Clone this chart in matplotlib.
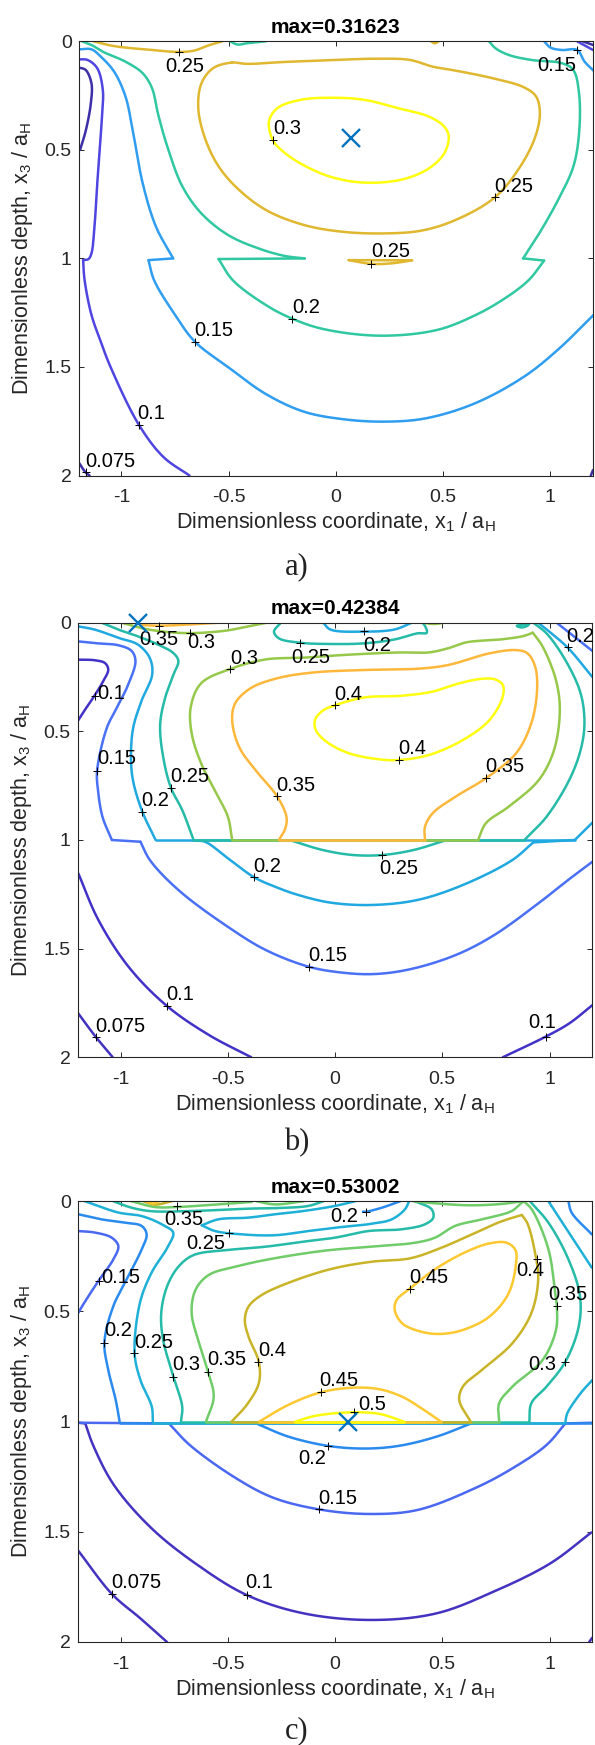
import numpy as np
import matplotlib
matplotlib.use("Agg")
import matplotlib.pyplot as plt

plt.rcParams['font.family'] = ['Liberation Sans', 'DejaVu Sans']
plt.rcParams['mathtext.default'] = 'regular'

W, H = 595, 1745
X_TICKS = [-1, -0.5, 0, 0.5, 1]
Y_TICKS = [0, 0.5, 1, 1.5, 2]
X_LABEL = 'Dimensionless coordinate, x$_{1}$ / a$_{H}$'
Y_LABEL = 'Dimensionless depth, x$_{3}$ / a$_{H}$'

# ---------- panel a ----------
TITLE_A = 'max=0.31623'
COLORS_A = {0.075: '#3d2fa8', 0.1: '#4f45e0', 0.15: '#2f9df0', 0.2: '#30c8a0', 0.25: '#e0b830', 0.3: '#ffff10'}
CONTOURS_A = [
 (0.075, [(-1.198,.121),(-1.167,.132),(-1.14,.194),(-1.143,.286),(-1.166,.409),(-1.193,.5)]),
 (0.075, [(-1.198,1.942),(-1.167,1.986),(-1.149,2.0)]),
 (0.075, [(1.152,0),(1.2,.017)]),
 (0.075, [(1.19,2.0),(1.2,1.975)]),
 (0.1, [(-1.198,.083),(-1.158,.086),(-1.113,.124),(-1.087,.224),(-1.09,.332),(-1.108,.578),(-1.126,.854),(-1.14,.977),(-1.154,1.003),(-1.179,1.008)]),
 (0.1, [(-1.179,1.008),(-1.172,1.10),(-1.14,1.26),(-1.096,1.385),(-1.051,1.50),(-.919,1.766),(-.804,1.915),(-.683,2.0)]),
 (0.1, [(1.126,0),(1.2,.04)]),
 (0.15, [(-1.198,.037),(-1.14,.037),(-1.096,.071),(-1.034,.14),(-.981,.255),(-.945,.424),(-.901,.654),(-.839,.854),(-.759,1.0)]),
 (0.15, [(-.759,1.0),(-.874,1.008)]),
 (0.15, [(-.874,1.008),(-.848,1.10),(-.75,1.26),(-.657,1.384),(-.503,1.50),(-.326,1.625),(-.149,1.706),(.028,1.74),(.223,1.752),(.418,1.737),(.648,1.668),(.878,1.545),(1.037,1.42),(1.202,1.261)]),
 (0.15, [(.972,0),(1.002,.029),(1.055,.04),(1.126,.04),(1.161,.094),(1.202,.135)]),
 (0.2, [(-1.184,0),(-1.14,.017),(-1.087,.048),(-.981,.094),(-.901,.147),(-.857,.217),(-.83,.332),(-.786,.485),(-.715,.67),(-.627,.793),(-.503,.892),(-.361,.954),(-.237,.989),(-.145,1.0)]),
 (0.2, [(-.145,1.0),(-.547,1.003)]),
 (0.2, [(-.547,1.003),(-.481,1.10),(-.326,1.215),(-.205,1.277),(-.06,1.325),(.205,1.356),(.471,1.33),(.648,1.263),(.789,1.184),(.9,1.10),(.972,1.01)]),
 (0.2, [(.972,1.01),(.874,1.0)]),
 (0.2, [(.874,1.0),(.949,.885),(1.037,.731),(1.108,.578),(1.135,.424),(1.135,.24),(1.108,.132),(1.055,.101),(.913,.086),(.807,.063),(.745,.032),(.715,0)]),
 (0.2, [(-.494,0),(-.458,.015),(-.414,.009),(-.326,0)]),
 (0.25, [(-1.131,0),(-1.034,.022),(-.857,.04),(-.733,.049),(-.662,.043),(-.591,.018),(-.529,0)]),
 (0.25, [(.444,0),(.462,.009),(.48,0)]),
 (0.25, [(.06,1.008),(.166,1.025),(.258,1.023),(.356,1.009)]),
 (0.25, [(.06,1.008),(.356,1.009)]),
 (0.25, [(-.485,.098),(-.573,.124),(-.627,.194),(-.642,.301),(-.618,.424),(-.556,.562),(-.467,.67),(-.326,.777),(-.149,.846),(.028,.877),(.223,.885),(.4,.872),(.559,.823),(.742,.719),(.86,.578),(.931,.439),(.952,.332),(.935,.255),(.878,.212),(.736,.171),(.559,.135),(.453,.117),(.347,.086),(.205,.08),(-.007,.086),(-.237,.095),(-.414,.104),(-.485,.098)]),
 (0.3, [(-.294,.455),(-.312,.37),(-.274,.309),(-.166,.27),(-.007,.26),(.135,.27),(.294,.309),(.435,.347),(.506,.393),(.527,.439),(.506,.516),(.435,.585),(.312,.636),(.135,.651),(-.025,.624),(-.166,.562),(-.255,.5),(-.294,.455)]),
]
LABELS_A = [
 ('0.25',-.706,.117,-.733,.049),('0.15',1.032,.112,1.126,.04),('0.3',-.228,.401,-.294,.455),
 ('0.25',.832,.667,.742,.719),('0.25',.255,.969,.166,1.025),('0.2',-.14,1.226,-.205,1.277),
 ('0.15',-.57,1.33,-.657,1.384),('0.1',-.86,1.714,-.919,1.766),('0.075',-1.051,1.934,-1.166,1.986),
]
MAX_A = (.073, .447)

# ---------- panel b ----------
TITLE_B = 'max=0.42384'
COLORS_B = {0.075: '#4232c0', 0.1: '#4232c8', 0.15: '#4a70f5', 0.2: '#20a8e0', 0.25: '#25bba8', 0.3: '#96c84a', 0.35: '#fdb83c', 0.4: '#ffff10'}
CONTOURS_B = [
 (0.075, [(-1.198,1.798),(-1.117,1.905),(-1.037,2.0)]),
 (0.1, [(-1.198,.17),(-1.12,.173),(-1.073,.186),(-1.058,.216),(-1.081,.268),(-1.123,.337),(-1.166,.4),(-1.2,.452)]),
 (0.1, [(-1.198,1.153),(-1.104,1.368),(-.962,1.585),(-.784,1.764),(-.589,1.897),(-.391,2.0)]),
 (0.1, [(.782,2.0),(.982,1.905),(1.092,1.844),(1.2,1.76)]),
 (0.15, [(-1.198,.086),(-1.12,.094),(-1.01,.104),(-.949,.13),(-.931,.176),(-.965,.285),(-1.019,.393),(-1.065,.485),(-1.11,.681),(-1.106,.77),(-1.085,.893),(-1.041,1.0)]),
 (0.15, [(-1.041,1.0),(-.908,1.008)]),
 (0.15, [(-.908,1.008),(-.864,1.092),(-.731,1.23),(-.501,1.399),(-.324,1.506),(-.124,1.583),(.03,1.61),(.181,1.617),(.349,1.595),(.561,1.53),(.738,1.44),(.95,1.29),(1.092,1.18),(1.2,1.1)]),
 (0.15, [(1.033,0),(1.2,.13)]),
 (0.2, [(-1.198,.017),(-1.12,.032),(-1.01,.07),(-.919,.101),(-.864,.163),(-.853,.239),(-.903,.36),(-.942,.485),(-.952,.617),(-.943,.724),(-.899,.87),(-.837,1.0)]),
 (0.2, [(-.837,1.0),(1.118,1.0)]),
 (0.2, [(1.118,1.0),(1.2,.92)]),
 (0.2, [(-.66,1.003),(-.607,1.008),(-.5,1.084),(-.377,1.172),(-.28,1.215),(-.182,1.25),(-.023,1.288),(.172,1.299),(.384,1.276),(.596,1.207),(.827,1.092),(.924,1.011)]),
 (0.2, [(.924,1.011),(1.118,1.0)]),
 (0.2, [(-.055,0),(-.023,.031),(.136,.041),(.278,.031),(.358,0)]),
 (0.2, [(.947,0),(1.01,.05),(1.087,.117),(1.2,.25)]),
 (0.25, [(-1.089,0),(-1.01,.032),(-.919,.063),(-.825,.101),(-.754,.14),(-.731,.176),(-.754,.239),(-.793,.347),(-.816,.469),(-.802,.617),(-.766,.759),(-.713,.862),(-.66,1.0)]),
 (0.25, [(-.66,1.0),(.883,1.0)]),
 (0.25, [(.883,1.0),(.986,.893),(1.092,.724),(1.145,.586),(1.163,.463),(1.145,.325),(1.074,.172),(.986,.049),(.924,0)]),
 (0.25, [(-.2,1.004),(-.058,1.046),(.083,1.069),(.221,1.069),(.366,1.046),(.508,1.004)]),
 (0.25, [(-.253,0),(-.285,.041),(-.262,.072),(-.165,.092),(-.023,.098),(.136,.095),(.278,.077),(.384,.049),(.428,.046),(.41,.003),(.393,0)]),
 (0.25, [(.848,.015),(.88,.008),(.905,.003),(.9,.012),(.87,.022),(.848,.015)]),
 (0.3, [(-.48,1.0),(-.5,.893),(-.554,.785),(-.625,.647),(-.669,.509),(-.673,.387),(-.625,.279),(-.489,.213),(-.324,.169),(-.147,.161),(.03,.149),(.296,.137),(.435,.137),(.526,.118),(.614,.09),(.773,.077),(.88,.061),(.922,.046)]),
 (0.3, [(.922,.046),(.968,.11),(1.03,.264),(1.048,.402),(1.021,.586),(.95,.724),(.809,.847),(.703,.923),(.667,1.0)]),
 (0.3, [(-.48,1.0),(.667,1.0)]),
 (0.3, [(-.996,0),(-.9,.025),(-.825,.038),(-.685,.048),(-.513,.037),(-.42,.02),(-.319,0)]),
 (0.3, [(.41,0),(.46,.006),(.51,0)]),
 (0.35, [(-.262,1.0),(-.232,.946),(-.227,.893),(-.271,.798),(-.359,.693),(-.448,.571),(-.48,.448),(-.466,.371),(-.395,.302),(-.271,.256),(-.112,.23),(.119,.218),(.384,.212),(.526,.195),(.72,.141),(.844,.126),(.897,.141),(.933,.202),(.942,.31),(.915,.463),(.844,.601),(.703,.716),(.561,.801),(.455,.877),(.419,.939),(.419,1.0)]),
 (0.35, [(-.262,1.0),(.419,1.0)]),
 (0.35, [(-.9,.011),(-.82,.014),(-.678,.008),(-.545,0)]),
 (0.4, [(0,.38),(-.058,.405),(-.094,.448),(-.09,.494),(-.04,.548),(.065,.601),(.207,.629),(.296,.632),(.437,.609),(.596,.54),(.72,.448),(.782,.34),(.782,.287),(.747,.261),(.685,.258),(.579,.279),(.455,.317),(.313,.336),(.136,.344),(0,.38)]),
]
LABELS_B = [
 ('0.35',-.823,.077,-.82,.014),('0.3',-.625,.092,-.678,.046),('0.3',-.425,.164,-.489,.213),
 ('0.25',-.112,.16,-.165,.092),('0.2',.195,.103,.136,.04),('0.2',1.145,.064,1.087,.113),
 ('0.1',-1.044,.325,-1.12,.337),('0.4',.062,.33,0,.38),('0.4',.358,.581,.296,.632),
 ('0.15',-1.019,.627,-1.11,.681),('0.25',-.678,.709,-.766,.759),('0.2',-.837,.819,-.899,.87),
 ('0.35',-.182,.747,-.271,.798),('0.35',.791,.663,.703,.716),('0.25',.296,1.13,.221,1.069),
 ('0.2',-.315,1.12,-.377,1.172),('0.15',-.035,1.53,-.124,1.583),('0.1',-.724,1.713,-.784,1.764),
 ('0.075',-1.004,1.856,-1.115,1.905),('0.1',.965,1.839,.982,1.905),
]
MAX_B = (-.917, 0.0)

# ---------- panel c ----------
TITLE_C = 'max=0.53002'
COLORS_C = {0.075: '#4433c0', 0.1: '#4433c0', 0.15: '#4a68f0', 0.2: '#2a8aee', 0.25: '#1fb0d8', 0.3: '#25bba8', 0.35: '#70cc68', 0.4: '#c9b428', 0.45: '#fdc830', 0.5: '#fbfb10'}
CONTOURS_C = [
 (0.075, [(-1.197,1.587),(-1.041,1.782),(-.908,1.893),(-.784,2.0)]),
 (0.075, [(1.185,2.0),(1.2,1.98)]),
 (0.1, [(-1.197,1.005),(-1.165,1.008)]),
 (0.1, [(-1.165,1.008),(-1.129,1.106),(-1.032,1.287),(-.855,1.485),(-.642,1.65),(-.412,1.787),(-.147,1.87),(.172,1.9),(.473,1.87),(.738,1.772),(1.004,1.643),(1.195,1.503)]),
 (0.15, [(-1.197,.135),(-1.12,.142),(-1.042,.165),(-1.011,.203),(-1.034,.263),(-1.104,.362),(-1.174,.467),(-1.197,.505)]),
 (0.15, [(-1.197,1.005),(-.775,1.008)]),
 (0.15, [(-.775,1.008),(-.678,1.106),(-.465,1.255),(-.289,1.345),(-.076,1.398),(.154,1.419),(.384,1.401),(.65,1.303),(.827,1.212),(.986,1.106),(1.074,1.008)]),
 (0.15, [(1.074,1.008),(1.2,1.005)]),
 (0.2, [(-1.197,.059),(-1.089,.082),(-.98,.097),(-.902,.112),(-.879,.15),(-.902,.218),(-.972,.354),(-1.034,.475),(-1.076,.641),(-1.058,.765),(-1.023,.902),(-1.005,1.0)]),
 (0.2, [(-1.005,1.004),(1.2,1.004)]),
 (0.2, [(-.359,1.012),(-.218,1.068),(-.032,1.11),(.136,1.122),(.296,1.11),(.473,1.068),(.635,1.008)]),
 (0.2, [(.13,.047),(.145,.047),(.218,.029),(.303,0)]),
 (0.2, [(1.088,0),(1.103,.051),(1.197,.15)]),
 (0.25, [(-1.166,0),(-1.011,.051),(-.902,.067),(-.809,.104),(-.755,.142),(-.778,.203),(-.856,.324),(-.91,.46),(-.935,.69),(-.908,.811),(-.855,.932),(-.85,1.0)]),
 (0.25, [(-.85,1.006),(1.074,1.006)]),
 (0.25, [(-.622,.109),(-.545,.082),(-.405,.074),(-.281,.059),(-.14,.043),(-.001,.021),(.093,0)]),
 (0.25, [(-.622,.109),(-.56,.135),(-.436,.15),(-.281,.154),(-.125,.135),(-.001,.12),(.155,.104),(.264,.082),(.326,.036),(.345,0)]),
 (0.25, [(.995,0),(1.197,.301)]),
 (0.25, [(1.2,.811),(1.145,.871),(1.083,.962),(1.074,1.0)]),
 (0.3, [(-.719,1.0),(-.713,.932),(-.754,.796),(-.802,.629),(-.811,.508),(-.784,.387),(-.731,.297),(-.66,.244),(-.501,.221),(-.324,.206),(-.147,.183),(0,.165),(.155,.135),(.311,.127),(.42,.104),(.458,.074),(.45,.036),(.373,0)]),
 (0.3, [(-1.034,0),(-.949,.029),(-.856,.045),(-.669,.044),(-.389,.033),(-.25,.03),(-.125,.021),(-.055,0)]),
 (0.3, [(.909,0),(.995,.097),(1.088,.263),(1.142,.43),(1.136,.569),(1.074,.728),(.986,.841),(.915,.917),(.906,1.0)]),
 (0.3, [(-.719,1.003),(.906,1.003)]),
 (0.35, [(-.602,1.0),(-.566,.887),(-.593,.773),(-.634,.644),(-.669,.508),(-.651,.402),(-.589,.334),(-.465,.297),(-.324,.266),(-.058,.225),(.15,.207),(.373,.188),(.466,.165),(.559,.112),(.684,.082),(.824,.044),(.867,.009),(.88,0)]),
 (0.35, [(.365,0),(.466,.009),(.622,.018),(.777,.012),(.87,0)]),
 (0.35, [(.88,0),(.917,.036),(.995,.218),(1.026,.414),(1.034,.475),(1.03,.584),(.968,.72),(.827,.841),(.765,.917),(.765,1.0)]),
 (0.35, [(-.602,1.001),(.765,1.001)]),
 (0.35, [(-.949,0),(-.84,.026),(-.739,.026),(-.591,.017),(-.389,.003)]),
 (0.35, [(-.366,0),(-.281,.014),(-.148,0)]),
 (0.4, [(-.894,0),(-.84,.015),(-.762,0)]),
 (0.4, [(-.483,1.0),(-.412,.924),(-.356,.826),(-.356,.728),(-.404,.614),(-.421,.539),(-.404,.478),(-.342,.425),(-.182,.357),(-.005,.304),(.172,.274),(.349,.259),(.49,.213),(.65,.145),(.773,.092),(.871,.062)]),
 (0.4, [(.871,.062),(.897,.1),(.933,.236),(.947,.357),(.915,.508),(.827,.644),(.685,.765),(.596,.841),(.579,.902),(.632,1.0)]),
 (0.4, [(-.483,1.0),(.632,1.0)]),
 (0.45, [(-.88,0),(-.85,.01),(-.82,0)]),
 (0.45, [(.349,.396),(.287,.448),(.278,.493),(.313,.554),(.402,.592),(.49,.602),(.596,.584),(.72,.523),(.809,.418),(.844,.281),(.841,.221),(.8,.188),(.72,.191),(.614,.228),(.473,.304),(.349,.396)]),
 (0.45, [(-.354,1.0),(-.218,.924),(-.067,.867),(.083,.846),(.207,.853),(.313,.887),(.402,.939),(.494,1.0)]),
 (0.45, [(-.354,1.0),(.494,1.0)]),
 (0.5, [(-.186,1.0),(-.094,.974),(.065,.958),(.207,.965),(.322,1.0)]),
 (0.5, [(-.186,1.0),(.322,1.0)]),
]
LABELS_C = [
 ('0.35',-.704,.082,-.736,.021),('0.2',.044,.07,.145,.047),('0.25',-.604,.191,-.497,.145),
 ('0.15',-1.0,.345,-1.099,.362),('0.45',.437,.346,.349,.396),('0.4',.912,.312,.94,.263),
 ('0.35',1.087,.425,1.035,.475),('0.2',-1.011,.588,-1.076,.641),('0.25',-.846,.64,-.936,.69),
 ('0.3',-.692,.74,-.756,.796),('0.35',-.506,.72,-.595,.773),('0.4',-.294,.679,-.358,.731),
 ('0.3',.968,.74,1.074,.731),('0.45',.018,.815,-.067,.867),('0.5',.172,.92,.088,.958),
 ('0.2',-.106,1.166,-.032,1.11),('0.15',.012,1.348,-.076,1.398),('0.1',-.352,1.731,-.412,1.787),
 ('0.075',-.926,1.731,-1.041,1.782),
]
MAX_C = (.06, 1.0)


def smooth(points, n=16):
    p = np.array(points, float)
    if len(p) < 3:
        return p[:, 0], p[:, 1]
    if np.allclose(p[0], p[-1]):
        q = np.vstack([p[-2], p, p[1]])
    else:
        q = np.vstack([2 * p[0] - p[1], p, 2 * p[-1] - p[-2]])
    out = []
    for i in range(1, len(q) - 2):
        P0, P1, P2, P3 = q[i - 1], q[i], q[i + 1], q[i + 2]
        t0 = 0.0
        t1 = t0 + max(np.linalg.norm(P1 - P0), 1e-6) ** 0.5
        t2 = t1 + max(np.linalg.norm(P2 - P1), 1e-6) ** 0.5
        t3 = t2 + max(np.linalg.norm(P3 - P2), 1e-6) ** 0.5
        t = np.linspace(t1, t2, n, endpoint=False)[:, None]
        A1 = (t1 - t) / (t1 - t0) * P0 + (t - t0) / (t1 - t0) * P1
        A2 = (t2 - t) / (t2 - t1) * P1 + (t - t1) / (t2 - t1) * P2
        A3 = (t3 - t) / (t3 - t2) * P2 + (t - t2) / (t3 - t2) * P3
        B1 = (t2 - t) / (t2 - t0) * A1 + (t - t0) / (t2 - t0) * A2
        B2 = (t3 - t) / (t3 - t1) * A2 + (t - t1) / (t3 - t1) * A3
        out.append((t2 - t) / (t2 - t1) * B1 + (t - t1) / (t2 - t1) * B2)
    out = np.vstack(out + [p[-1][None, :]])
    return out[:, 0], out[:, 1]


def panel(box, title, contours, colors, labels, mx, tag, tag_y):
    l, r, t, b = box
    ax = fig.add_axes([l / W, 1 - b / H, (r - l) / W, (b - t) / H])
    for lev, pts in contours:
        x, y = smooth(pts)
        ax.plot(x, y, color=colors[lev], lw=1.8, solid_capstyle='round', solid_joinstyle='round', zorder=2)
    for txt, tx, ty, mx_, my_ in labels:
        ax.plot([mx_], [my_], marker='+', ms=6, mew=0.7, color='k', ls='none', zorder=4, clip_on=False)
        ax.text(tx, ty, txt, ha='center', va='center', fontsize=14.5, color='k', zorder=5, clip_on=False)
    ax.plot([mx[0]], [mx[1]], marker='x', ms=12.5, mew=1.7, color='#0072bd', ls='none', zorder=6, clip_on=False)
    ax.set_xlim(-1.2, 1.2)
    ax.set_ylim(2, 0)
    ax.set_xticks(X_TICKS)
    ax.set_xticklabels(['-1', '-0.5', '0', '0.5', '1'])
    ax.set_yticks(Y_TICKS)
    ax.set_yticklabels(['0', '0.5', '1', '1.5', '2'])
    ax.tick_params(direction='in', length=3.6, width=0.7, top=True, right=True, labelsize=14, colors='#262626')
    ax.tick_params(axis='x', pad=10)
    ax.tick_params(axis='y', pad=5)
    for s in ax.spines.values():
        s.set_linewidth(0.8)
        s.set_color('#262626')
    ax.set_xlabel(X_LABEL, fontsize=15.5, color='#262626', labelpad=3)
    ax.set_ylabel(Y_LABEL, fontsize=15.5, color='#262626', labelpad=7)
    ax.set_title(title, fontsize=15, fontweight='bold', color='k', pad=6)
    fig.text(297 / W, 1 - tag_y / H, tag, ha='center', va='center', fontsize=22, family='Liberation Serif', color='#222222')
    return ax


fig = plt.figure(figsize=(W / 100, H / 100), dpi=100)
panel((78.6, 593, 41.3, 475.5), TITLE_A, CONTOURS_A, COLORS_A, LABELS_A, MAX_A, 'a)', 567)
panel((77.8, 592.4, 622.7, 1057.3), TITLE_B, CONTOURS_B, COLORS_B, LABELS_B, MAX_B, 'b)', 1143)
panel((77.8, 592.4, 1201.3, 1642), TITLE_C, CONTOURS_C, COLORS_C, LABELS_C, MAX_C, 'c)', 1731)
fig.savefig('out.png', dpi=100)
